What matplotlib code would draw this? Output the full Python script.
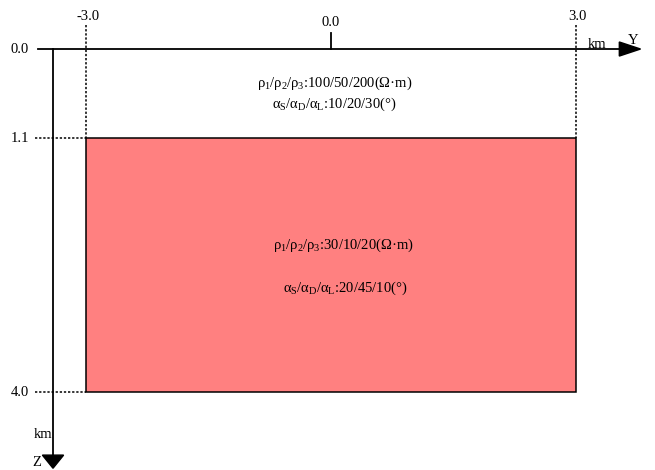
import numpy as np
import matplotlib.pyplot as plt
from matplotlib.patches import Rectangle, Polygon

plt.rcParams['font.family'] = ['Liberation Serif', 'DejaVu Serif']
plt.rcParams['mathtext.fontset'] = 'custom'
plt.rcParams['mathtext.rm'] = 'Liberation Serif'
plt.rcParams['mathtext.it'] = 'Liberation Serif'

# model geometry (km)
y_ticks = [-3.0, 0.0, 3.0]
z_ticks = [0.0, 1.1, 4.0]
block_y = [-3.0, 3.0]
block_z = [1.1, 4.0]

# layer parameters
bg_rho = [100, 50, 200]
bg_alpha = [10, 20, 30]
blk_rho = [30, 10, 20]
blk_alpha = [20, 45, 10]


def rho_text(v):
    return r'$\rho_1/\rho_2/\rho_3$:%d/%d/%d($\Omega$·m)' % tuple(v)


def alpha_text(v):
    return r'$\alpha_\mathrm{S}/\alpha_\mathrm{D}/\alpha_\mathrm{L}$:%d/%d/%d(°)' % tuple(v)


# schematic depth axis: upper layer drawn a bit thinner than the block
Z1, S1, S2 = 1.1, 80.9, 87.6


def z_fwd(z):
    z = np.asarray(z, dtype=float)
    return np.where(z < Z1, z * S1, Z1 * S1 + (z - Z1) * S2)


def z_inv(p):
    p = np.asarray(p, dtype=float)
    return np.where(p < Z1 * S1, p / S1, Z1 + (p - Z1 * S1) / S2)


fig = plt.figure(figsize=(6.55, 4.70), dpi=100)
ax = fig.add_axes([0, 0, 1, 1])
ax.set_yscale('function', functions=(z_fwd, z_inv))
ax.set_xlim(-4.053, 3.967)
ax.set_ylim(4.89, -0.606)
ax.axis('off')

fs = 10.5
lw = 1.3
dot = (0, (1.5, 1.2))

# block
ax.add_patch(Rectangle((block_y[0], block_z[0]), block_y[1] - block_y[0],
                       block_z[1] - block_z[0], facecolor='#ff8080',
                       edgecolor='black', lw=1.1, zorder=1))

# Y axis
ax.plot([-3.59, 3.55], [0, 0], color='black', lw=lw, zorder=3)
ax.add_patch(Polygon([[3.53, -0.087], [3.53, 0.087], [3.79, 0]],
                     closed=True, color='black', zorder=3))
# Z axis
z_axis_y = -3.404
ax.plot([z_axis_y, z_axis_y], [0, 4.74], color='black', lw=lw, zorder=3)
ax.add_patch(Polygon([[z_axis_y - 0.13, 4.72], [z_axis_y + 0.13, 4.72],
                      [z_axis_y, 4.87]], closed=True, color='black', zorder=3))

# dotted guides
for yv in block_y:
    ax.plot([yv, yv], [-0.297, block_z[0]], ls=dot, color='black',
            lw=1.1, zorder=2)
for zv in z_ticks[1:]:
    ax.plot([-3.62, block_y[0]], [zv, zv], ls=dot, color='black',
            lw=1.1, zorder=2)

# tick at origin
ax.plot([0, 0], [-0.198, 0], color='black', lw=lw, zorder=3)

# tick labels
for yv in y_ticks:
    zpos = -0.334 if yv == 0 else -0.408
    ax.text(yv + (0.02 if yv != 0 else 0), zpos, '%.1f' % yv, ha='center',
            va='center', fontsize=fs)
for zv in z_ticks:
    ax.text(-3.70, zv, '%.1f' % zv, ha='right', va='center', fontsize=fs)

ax.text(3.26, -0.06, 'km', ha='center', va='center', fontsize=fs)
ax.text(3.70, -0.11, 'Y', ha='center', va='center', fontsize=fs)
ax.text(-3.53, 4.49, 'km', ha='center', va='center', fontsize=fs)
ax.text(-3.60, 4.81, 'Z', ha='center', va='center', fontsize=fs)

# parameter annotations
ax.text(0.04, 0.42, rho_text(bg_rho), ha='center', va='center', fontsize=fs)
ax.text(0.04, 0.68, alpha_text(bg_alpha), ha='center', va='center', fontsize=fs)
ax.text(0.15, 2.32, rho_text(blk_rho), ha='center', va='center', fontsize=fs)
ax.text(0.17, 2.82, alpha_text(blk_alpha), ha='center', va='center', fontsize=fs)

fig.savefig('out.png', dpi=100)
